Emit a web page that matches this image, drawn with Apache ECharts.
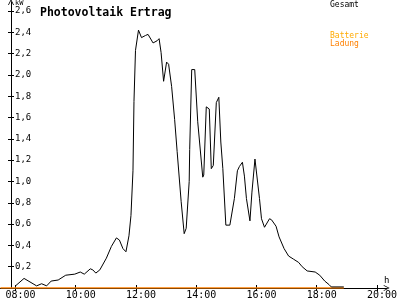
<!DOCTYPE html>
<html>
<head>
<meta charset="utf-8">
<script src="https://cdn.jsdelivr.net/npm/echarts@6/dist/echarts.min.js"></script>
<style>html,body{margin:0;padding:0;background:#fff}#c{width:400px;height:300px}</style>
</head>
<body>
<div id="c"></div>
<script>
// Times (HH:MM) and values (kW) of "Gesamt"
const gesamtTimes = ["08:00","08:17","08:42","08:52","09:02","09:11","09:25","09:40","09:58","10:09","10:17","10:29","10:34","10:40","10:48","11:01","11:11","11:21","11:27","11:34","11:40","11:46","11:50","11:54","11:56","11:59","12:05","12:11","12:19","12:24","12:34","12:42","12:46","12:50","12:55","13:01","13:05","13:11","13:17","13:22","13:30","13:36","13:40","13:46","13:47","13:51","13:57","14:03","14:13","14:15","14:20","14:26","14:30","14:34","14:40","14:45","14:49","14:53","14:59","15:07","15:16","15:22","15:26","15:32","15:36","15:40","15:47","15:51","15:57","16:06","16:10","16:16","16:26","16:30","16:39","16:45","16:55","17:04","17:14","17:24","17:31","17:41","17:57","18:06","18:16","18:25","18:29","18:54"];
const gesamtValues = [0.02,0.09,0.02,0.04,0.02,0.065,0.075,0.12,0.13,0.15,0.13,0.18,0.17,0.14,0.17,0.28,0.39,0.47,0.45,0.37,0.34,0.49,0.68,1.1,1.75,2.23,2.42,2.35,2.37,2.38,2.30,2.32,2.34,2.21,1.94,2.12,2.10,1.89,1.58,1.28,0.81,0.51,0.56,1.0,1.3,2.05,2.05,1.56,1.04,1.06,1.70,1.68,1.12,1.15,1.74,1.79,1.37,1.12,0.59,0.59,0.84,1.10,1.14,1.18,1.05,0.84,0.63,0.9,1.21,0.84,0.65,0.57,0.65,0.64,0.58,0.48,0.37,0.30,0.27,0.24,0.20,0.16,0.15,0.12,0.065,0.03,0.01,0.01];
// "Batterie Ladung"
const ladungTimes = ["07:30","18:54"];
const ladungValues = [0,0];
// axis ticks
const xTickValues = [8,10,12,14,16,18,20];
const xTickLabels = ["08:00","10:00","12:00","14:00","16:00","18:00","20:00"];
const yTickValues = [0,0.2,0.4,0.6,0.8,1.0,1.2,1.4,1.6,1.8,2.0,2.2,2.4,2.6];
const yTickLabels = ["","0,2","0,4","0,6","0,8","1,0","1,2","1,4","1,6","1,8","2,0","2,2","2,4","2,6"];

const toH = s => { const p = s.split(":"); return +p[0] + (+p[1]) / 60; };
const pairs = (ts, vs) => ts.map((t, i) => [toH(t), vs[i]]);

const X_MIN = 8 - 16 / 31.08, X_MAX = 8 + 383 / 31.08;
const Y_MAX = 288 / 107.3;
const FONT = "DejaVu Sans Mono";
const arrow = 'path://M0,10 L5,0 L10,10 L8.6,10 L5,2.8 L1.4,10 Z';

const fmtX = v => { const i = xTickValues.findIndex(t => Math.abs(t - v) < 1e-6); return i < 0 ? "" : xTickLabels[i]; };
const fmtY = v => { const i = yTickValues.findIndex(t => Math.abs(t - v) < 1e-6); return i < 0 ? "" : yTickLabels[i]; };

const chart = echarts.init(document.getElementById('c'));
chart.setOption({
  animation: false,
  backgroundColor: '#fff',
  title: { text: 'Photovoltaik Ertrag', left: 35, top: 2, textStyle: { fontFamily: FONT, fontWeight: 'bold', fontSize: 11.5, color: '#000' } },
  grid: { left: 0, right: 1, top: 2, bottom: 10, containLabel: false },
  xAxis: [{
    type: 'value', min: X_MIN, max: X_MAX, position: 'bottom',
    axisLine: { show: true, onZero: false, symbol: ['none', arrow], symbolSize: [7, 6], lineStyle: { color: '#000', width: 1 } },
    axisTick: { show: true, length: 3, customValues: xTickValues, lineStyle: { color: '#000' } },
    axisLabel: { show: true, customValues: xTickValues, formatter: fmtX, margin: 2, padding: [0, 0, 0, 10], alignMaxLabel: 'center', alignMinLabel: 'center', hideOverlap: false, fontFamily: FONT, fontSize: 10, color: '#000' },
    splitLine: { show: false }
  }, {
    type: 'value', min: X_MIN, max: X_MAX, position: 'bottom', offset: 0,
    axisLine: { show: false, onZero: false },
    axisTick: { show: true, inside: true, length: 3, customValues: xTickValues, lineStyle: { color: '#000' } },
    axisLabel: { show: false }, splitLine: { show: false }
  }],
  yAxis: [{
    type: 'value', min: 0, max: Y_MAX, position: 'left', offset: -11,
    axisLine: { show: true, onZero: false, symbol: ['none', arrow], symbolSize: [6, 7], lineStyle: { color: '#000', width: 1 } },
    axisTick: { show: true, length: 3, customValues: yTickValues, lineStyle: { color: '#000' } },
    axisLabel: { show: true, inside: true, customValues: yTickValues, formatter: fmtY, margin: 4, fontFamily: FONT, fontSize: 9, color: '#000' },
    splitLine: { show: false }
  }, {
    type: 'value', min: 0, max: Y_MAX, position: 'left', offset: -11,
    axisLine: { show: false, onZero: false },
    axisTick: { show: true, inside: true, length: 3, customValues: yTickValues, lineStyle: { color: '#000' } },
    axisLabel: { show: false }, splitLine: { show: false }
  }],
  graphic: [
    { type: 'text', left: 15, top: 0, style: { text: 'kW', fontFamily: FONT, fontSize: 7, fill: '#000' } },
    { type: 'text', left: 384, top: 276, style: { text: 'h', fontFamily: FONT, fontSize: 9, fill: '#000' } },
    { type: 'text', left: 330, top: 1, style: { text: 'Gesamt', fontFamily: FONT, fontSize: 8, fill: '#000' } },
    { type: 'text', left: 330, top: 32, style: { text: 'Batterie', fontFamily: FONT, fontSize: 8, fill: '#ffaa00' } },
    { type: 'text', left: 330, top: 40, style: { text: 'Ladung', fontFamily: FONT, fontSize: 8, fill: '#ff8000' } }
  ],
  series: [
    { name: 'Batterie Ladung', type: 'line', xAxisIndex: 0, yAxisIndex: 0, data: pairs(ladungTimes, ladungValues), showSymbol: false, lineStyle: { color: '#ff8000', width: 1.5 }, z: 3 },
    { name: 'Gesamt', type: 'line', xAxisIndex: 0, yAxisIndex: 0, data: pairs(gesamtTimes, gesamtValues), showSymbol: false, lineStyle: { color: '#000', width: 1 }, z: 4 }
  ]
});
</script>
</body>
</html>
